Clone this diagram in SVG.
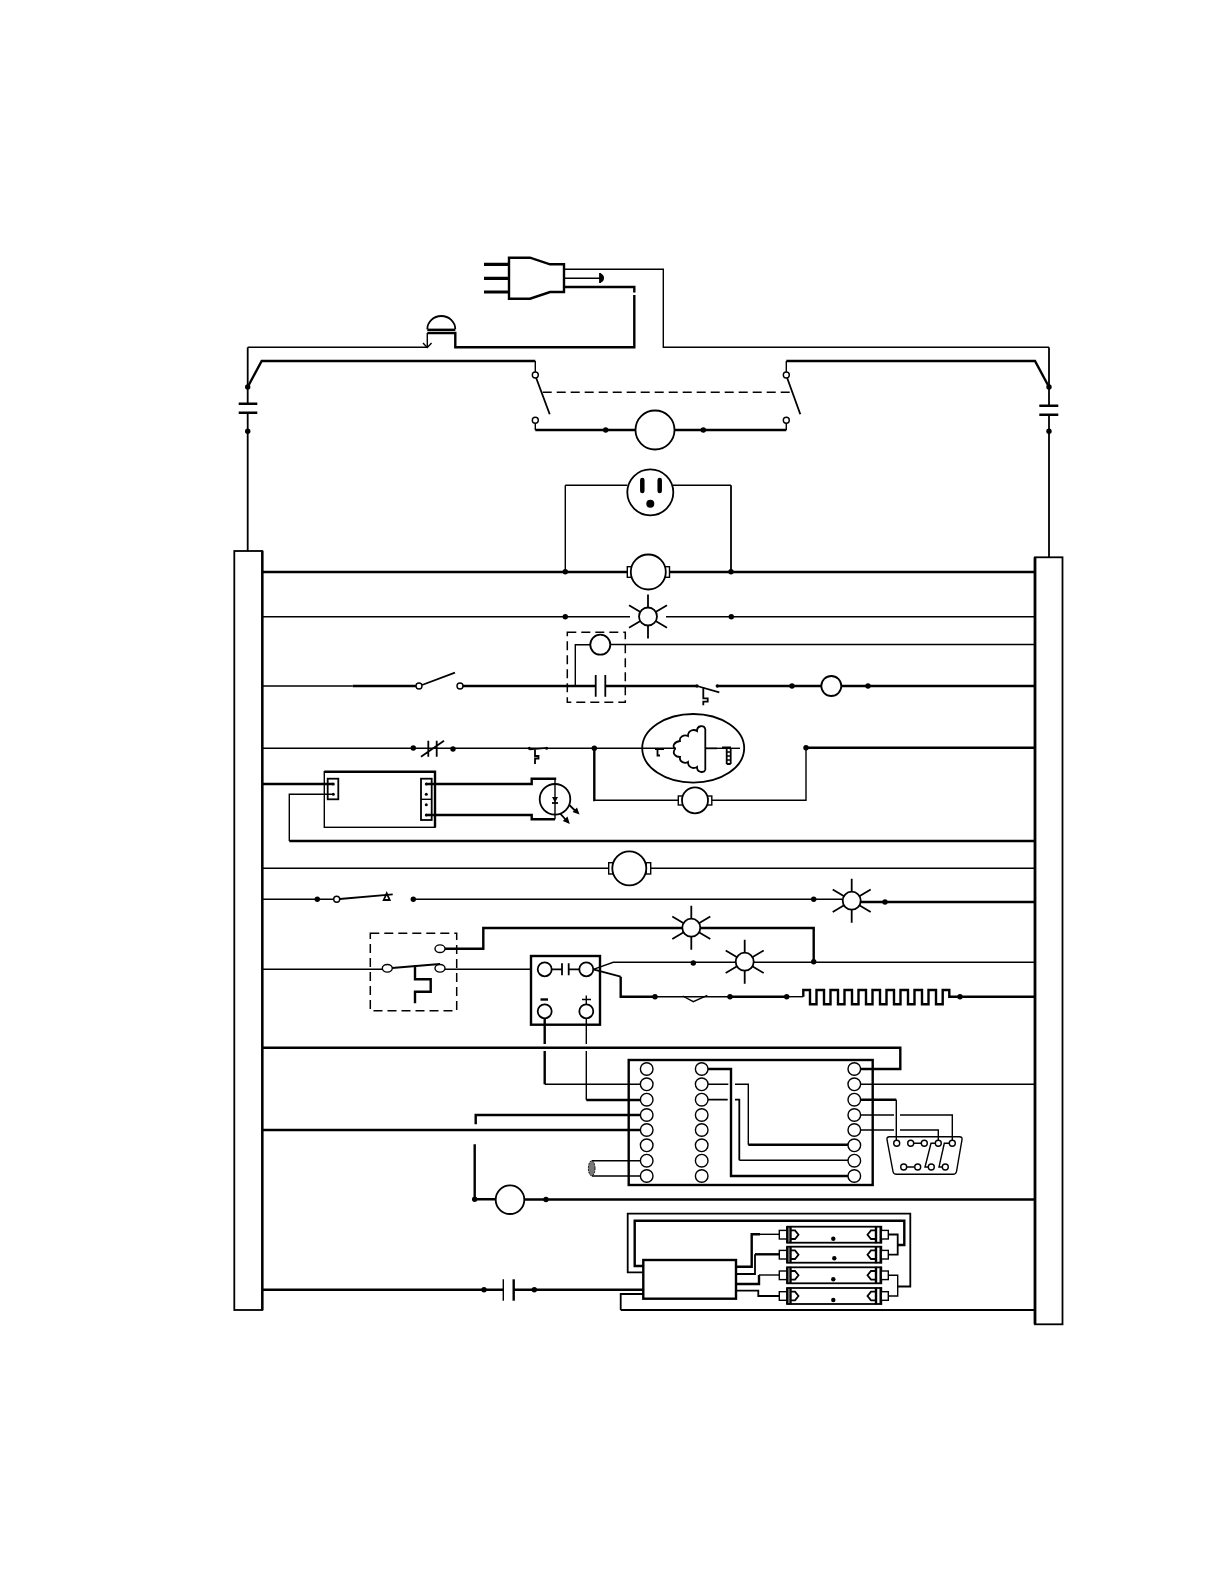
<svg xmlns="http://www.w3.org/2000/svg" xmlns:xlink="http://www.w3.org/1999/xlink" width="1225" height="1585" viewBox="0 0 1225 1585">
<style>
.t{fill:none;stroke:#000;stroke-width:1.4}
.m{fill:none;stroke:#000;stroke-width:1.8}
.k{fill:none;stroke:#000;stroke-width:2.4}
.w{fill:#fff;stroke:#000;stroke-width:1.8}
.n{fill:#fff;stroke:#000;stroke-width:1.4}
.d{fill:#000}
.dash{fill:none;stroke:#000;stroke-width:1.5;stroke-dasharray:9 5}
.ray{stroke:#000;stroke-width:1.8;fill:none}
</style>
<defs>
<g id="lamp"><path class="ray" d="M0-22V22M-19-11.3L19 11.3M-19 11.3L19-11.3"/><circle class="w" r="9"/></g>
<g id="tube">
<rect class="m" x="787.3" y="-8" width="94" height="16"/>
<rect class="n" x="779.3" y="-4.300" width="8" height="8.600"/>
<path class="k" d="M787.3-8.500V8.500M790.500-8.500V8.500"/>
<path class="m" d="M790.500-4.300H795L798.500 0L795 4.300H790.500"/>
<rect class="n" x="880.700" y="-4.300" width="7.600" height="8.600"/>
<path class="k" d="M880.700-8.500V8.500M876-8.500V8.500"/>
<path class="m" d="M876-4.300H871L867.500 0L871 4.300H876"/>
</g>
<circle id="pin" class="n" r="6.300"/>
<circle id="db" class="n" r="3"/>
</defs>

<g id="connectors">
<path class="t" d="M564 269.300H663.300V347.300H1049"/>
<path class="m" d="M1049 347.300V387"/>
<path class="t" d="M564 278.300H600"/>
<path class="k" d="M564 287H634.300V292.500M634.300 295V347.300H455.300V333H427.300"/>
<path class="t" d="M427.300 333V347"/>
<path class="t" d="M427.300 347.300H247.700"/>
<path class="m" d="M247.700 347.300V387"/>
<path class="k" d="M247.700 387L261.700 361H535.300"/>
<path class="t" d="M535.300 361V372"/>
<path class="k" d="M1049 387L1035 361H786.300"/>
<path class="t" d="M786.300 361V372"/>
<path class="t" d="M535.300 423.500V430M786.300 423.500V430"/>
<path class="k" d="M535.300 430H635.500M674.500 430H786.300"/>
<path class="m" d="M536 377.500L549.700 414.300M787 377.500L800.300 414.300"/>
<path class="dash" d="M542.700 392.300H791.700"/>
<path class="m" d="M247.700 387V403.700M247.700 412.700V551M1049 387V405.700M1049 414.700V557.300"/>
<path class="k" d="M238.700 403.700H257.300M238.700 412.700H257.300M1039.300 405.700H1058.300M1039.300 414.700H1058.300"/>
<path class="t" d="M565.300 485.300H627.500M673 485.300H731"/>
<path class="m" d="M731 485.300V571.700"/>
<path class="t" d="M565.300 485.300V571.700"/>
<path class="k" d="M262 572H627.300M669.300 572H1035"/>
<path class="t" d="M262 616.700H630M666 616.700H1035"/>
<path class="t" d="M262 686H352.700"/>
<path class="k" d="M352.700 686H416"/>
<path class="m" d="M422 685L455 672.700"/>
<path class="k" d="M463 686H595.700M605.300 686H696.700"/>
<path class="m" d="M697 686L719.300 692.300"/>
<path class="k" d="M717.300 686H821M841.500 686H1035"/>
<path class="t" d="M575.300 686V644.700H590.300M610.300 644.500H1035"/>
<path class="m" d="M703.300 687.300V698.300H707.700V701.700H703.300V705.300"/>
<path class="t" d="M262 748.300H676"/>
<path class="k" d="M594.300 748.300V800H595"/>
<path class="t" d="M595 800.300H678.300M711.700 800.300H806V747.700"/>
<path class="k" d="M806 747.700H1035"/>
<path class="m" d="M705.300 748.300H717"/>
<path class="t" d="M717 748.300H740"/>
<path class="k" d="M262 784H333"/>
<path class="t" d="M333 794.300H289.300V841"/>
<path class="k" d="M289.300 841H1035"/>
<path class="k" d="M426.300 784H531.700V778.700H555V780M555 819.300H531.700V815H426.300"/>
<path class="t" d="M555 778.700V819.300"/>
<path class="t" d="M262 868.300H608.700M650.700 868.300H1035"/>
<path class="t" d="M262 899.300H333.700M413.300 899.300H842"/>
<path class="k" d="M860.700 902H1035"/>
<path class="m" d="M339.700 899L392.700 894.300"/>
<path class="m" d="M386.700 893.300L383.700 900H389.700Z"/>
<path class="t" d="M262 969.300H382.300M445 969.300H531.700"/>
<path class="k" d="M445 948.700H483.300V928H682M700 928H813.700V961.700"/>
<path class="t" d="M593.300 969.300L613.300 962.300H1035"/>
<path class="m" d="M392 968L440 964"/>
<path class="k" d="M415 965V979.300H430.700V991.700H415V1003.300"/>
<path class="m" d="M593.300 969.300L620.700 976.700"/>
<path class="k" d="M620.700 976.700V996.700H655"/>
<path class="t" d="M655 996.700H730"/>
<path class="t" d="M682.700 996L693.300 1001.700L707.300 995.300"/>
<path class="k" d="M730 996.700H786.700"/>
<path class="t" d="M786.700 996.700H803.300"/>
<path class="k" d="M803.300 996.700V990H810V1004.300H816.500V990H824V1004.300H830.500V990H838V1004.300H844.500V990H852V1004.300H858.500V990H866V1004.300H872.500V990H880V1004.300H886.500V990H894V1004.300H900.500V990H908V1004.300H914.500V990H922V1004.300H928.500V990H936V1004.300H942.700V990H949.300V996.700H960"/>
<path class="k" d="M960 996.700H1035"/>
<path class="k" d="M544.700 1018V1044M544.700 1051V1084.300"/>
<path class="t" d="M544.700 1084.300H640.400"/>
<path class="t" d="M586.300 1018V1044M586.300 1051V1100"/>
<path class="k" d="M586.300 1100H640.400"/>
<path class="k" d="M262 1047.700H900.300V1069H860.600"/>
<path class="k" d="M640.400 1115H475.700V1124.300"/>
<path class="k" d="M262 1130H640.400"/>
<path class="k" d="M474.700 1144.300V1199.300H495.700M524.300 1199.500H1035"/>
<path class="t" d="M592 1160.700H640.400M592 1176H640.400"/>
<path class="k" d="M708 1069H731V1176H848"/>
<path class="t" d="M708 1084.300H728.300M735 1084.300H748.300V1144.700"/>
<path class="k" d="M748.300 1144.700H848"/>
<path class="m" d="M708 1099.700H727.700M735 1099.700H739.300V1160.300"/>
<path class="t" d="M739.300 1160.300H848"/>
<path class="t" d="M860.600 1084.300H1035"/>
<path class="k" d="M860.600 1099.700H896.300"/>
<path class="t" d="M896.300 1099.700V1140.300"/>
<path class="t" d="M860.600 1115H894M900 1115H952.300V1140.300M860.600 1130H894M900 1130H938.300V1140.300"/>
<path class="t" d="M913.700 1143.300H921.300M906.700 1167H914.700M935.300 1143.300H931L925 1167H928.300M949.300 1143.300H944.300L939 1167H942.300"/>
<path class="k" d="M262 1289.700H503.300M513.700 1289.700H643.300"/>
<path class="m" d="M643.300 1294H620.700V1310"/>
<path class="m" d="M620.700 1310H1035"/>
<path class="m" d="M643.300 1272.300H627.700V1213.700H910.300V1286.500H897.700"/>
<path class="k" d="M643.300 1266H634.700V1220.700H904.300V1245H897.700"/>
<path class="k" d="M736 1266.700H751.700V1234.300H760"/>
<path class="t" d="M760 1234.300H779.300"/>
<path class="m" d="M736 1274H755V1254.300"/>
<path class="k" d="M755 1254.300H780"/>
<path class="k" d="M736 1284H759V1275"/>
<path class="t" d="M759 1275H779.300"/>
<path class="m" d="M736 1290.700H758.300V1296H779.300"/>
<path class="m" d="M888.300 1234.500H897.700V1254.700H888.300"/>
<path class="t" d="M888.300 1275.300H897.700V1296H888.300"/>
</g>

<g id="plug">
<path d="M484 264.300H509M484 278.300H509M484 292H509" fill="none" stroke="#000" stroke-width="3.200"/>
<path class="k" d="M509 257.700H530L550 264.300H564V292H550L530 298.700H509Z" style="fill:#fff"/>
<path d="M600 273V283C603 282 604 280 604 278S603 274 600 273Z" class="d"/>
<path class="m" d="M600 273V283"/>
</g>
<g id="breaker">
<path class="m" d="M427.300 329.300A14 13.300 0 0 1 455.300 329.300"/>
<path class="k" d="M427.300 329.800H455.300"/>
<path class="t" d="M423 343L427.300 347.500L431.600 343"/>
</g>
<g id="terminals-left"><rect class="w" x="234.300" y="551" width="28" height="759"/><path class="k" d="M262.300 551V1310"/></g>
<g id="terminals-right"><rect class="w" x="1035" y="557.300" width="27.500" height="767"/><path d="M1035 557.300V1324.300" fill="none" stroke="#000" stroke-width="2.800"/></g>

<g id="switch-contacts">
<circle class="n" cx="535.300" cy="375" r="3"/><circle class="n" cx="535.300" cy="420.300" r="3"/>
<circle class="n" cx="786.300" cy="375" r="3"/><circle class="n" cx="786.300" cy="420.300" r="3"/>
</g>
<g id="compressor"><circle class="w" cx="655" cy="430" r="19.500"/></g>
<g id="receptacle">
<circle class="m" cx="650.300" cy="492.300" r="23"/>
<path d="M642.300 480V491M659.700 480V491" stroke="#000" stroke-width="4.500" stroke-linecap="round" fill="none"/>
<circle class="d" cx="650.300" cy="503.700" r="4"/>
</g>
<g id="motor-1">
<rect class="n" x="627.300" y="566.700" width="5" height="10.600"/><rect class="n" x="665" y="566.700" width="4.500" height="10.600"/>
<circle class="w" cx="648.300" cy="572" r="17.500"/>
</g>
<use id="lamp-1" xlink:href="#lamp" href="#lamp" x="648" y="616.500"/>
<g id="relay">
<rect class="dash" x="567.300" y="632.300" width="58" height="70"/>
<circle class="w" cx="600.300" cy="644.700" r="10"/>
<path class="m" d="M595.700 675V696.700M605.300 675V696.700"/>
</g>
<g id="door-switch"><circle class="n" cx="419" cy="686" r="3"/><circle class="n" cx="460" cy="686" r="3"/></g>
<g id="fan-1"><circle class="w" cx="831.300" cy="686" r="10"/></g>
<g id="contact-nc"><path class="m" d="M428.300 740.700V756.700M436.700 740.700V756.700M421 756.700L444 740.700"/></g>
<g id="thermostat">
<path class="t" d="M529.300 749.500L546.700 748"/>
<path class="m" d="M535 749.500V756H538.500V758.500H535V764"/>
<circle class="d" cx="529.300" cy="748.300" r="1.500"/><circle class="d" cx="546.700" cy="748.300" r="1.500"/>
</g>
<g id="compressor-motor">
<ellipse class="m" cx="693.200" cy="748.300" rx="51" ry="34.300"/>
<path class="m" d="M655 749H664M657.500 749V755.500H660"/>
<path class="m" d="M705.300 729V770M705.300 729C704 725 697 725 697 731C694 729 688 730 688 736C684 734 679 737 680 741C674 742 672 746 675 749C672 753 675 757 680 757C679 762 685 764 688 762C688 768 694 769 697 767C697 773 704 773 705.300 770"/>
<path class="m" d="M722 747.500H731M726.700 748V764M730.700 748V764M726.700 764H730.700"/>
<path class="t" d="M727 752H730M727 756H730M727 760H730"/>
</g>
<g id="fan-2">
<rect class="n" x="678.300" y="796" width="4.500" height="9"/><rect class="n" x="707.300" y="796" width="4.500" height="9"/>
<circle class="w" cx="695" cy="800.300" r="13"/>
</g>
<g id="ballast-1">
<rect class="t" x="324.300" y="771.700" width="110.700" height="55.600"/>
<path class="k" d="M435 827.300V771.700H324.300"/>
<rect class="m" x="327.700" y="778.700" width="10.600" height="20.600"/>
<rect class="m" x="421" y="778.700" width="10.700" height="41.300"/>
<path class="t" d="M421 799.300H431.700"/>
<circle class="d" cx="333.300" cy="784" r="1.500"/><circle class="d" cx="333.300" cy="794.300" r="1.500"/>
<circle class="d" cx="426.300" cy="784" r="1.500"/><circle class="d" cx="426.300" cy="794.300" r="1.500"/>
<circle class="d" cx="426.300" cy="804.700" r="1.500"/><circle class="d" cx="426.300" cy="815" r="1.500"/>
</g>
<g id="led">
<circle class="m" cx="555" cy="799.300" r="15.300"/>
<path class="d" d="M552 797H558L555 802.500Z"/><path class="m" d="M552 803H558"/>
<path class="m" d="M569.300 805L575 810.500M560 813.300L566 820"/>
<path class="d" d="M579.500 814.500L572.500 812L577 807.500ZM569.800 824L562.800 821L567.500 816.500Z"/>
</g>
<g id="motor-2">
<rect class="n" x="608.700" y="862.700" width="4.500" height="11.300"/><rect class="n" x="646" y="862.700" width="4.700" height="11.300"/>
<circle class="w" cx="629.300" cy="868.300" r="17"/>
</g>
<g id="switch-2"><circle class="n" cx="336.700" cy="899.300" r="3"/></g>
<use id="lamp-2" xlink:href="#lamp" href="#lamp" x="851.700" y="900.700"/>
<use id="lamp-3" xlink:href="#lamp" href="#lamp" x="691.300" y="927.700"/>
<use id="lamp-4" xlink:href="#lamp" href="#lamp" x="744.700" y="961.700"/>
<g id="relay-2">
<rect class="dash" x="370.300" y="933.300" width="86.400" height="77.400"/>
<ellipse class="n" cx="440" cy="948.700" rx="5" ry="3.800"/>
<ellipse class="n" cx="387.300" cy="968.300" rx="5" ry="3.800"/>
<ellipse class="n" cx="440" cy="968.300" rx="5" ry="3.800"/>
</g>
<g id="controller-box">
<rect class="k" x="531" y="956" width="69" height="68.700"/>
<circle class="w" cx="544.700" cy="969.300" r="7"/>
<circle class="w" cx="586.300" cy="969.300" r="7"/>
<circle class="w" cx="544.700" cy="1011.300" r="7"/>
<circle class="w" cx="586.300" cy="1011.300" r="7"/>
<path class="m" d="M552 969.300H562M562 963.300V975.300M568.700 963.300V975.300M568.700 969.300H579.300"/>
<path class="k" d="M540.500 999.500H548"/>
<path class="t" d="M582 999.500H591M586.300 995.500V1004"/>
</g>
<g id="control-board">
<rect class="k" x="628.700" y="1060" width="244" height="125"/>
<use xlink:href="#pin" href="#pin" x="646.700" y="1069"/><use xlink:href="#pin" href="#pin" x="646.700" y="1084.300"/><use xlink:href="#pin" href="#pin" x="646.700" y="1099.700"/><use xlink:href="#pin" href="#pin" x="646.700" y="1115"/><use xlink:href="#pin" href="#pin" x="646.700" y="1130"/><use xlink:href="#pin" href="#pin" x="646.700" y="1145.300"/><use xlink:href="#pin" href="#pin" x="646.700" y="1160.700"/><use xlink:href="#pin" href="#pin" x="646.700" y="1176"/>
<use xlink:href="#pin" href="#pin" x="701.700" y="1069"/><use xlink:href="#pin" href="#pin" x="701.700" y="1084.300"/><use xlink:href="#pin" href="#pin" x="701.700" y="1099.700"/><use xlink:href="#pin" href="#pin" x="701.700" y="1115"/><use xlink:href="#pin" href="#pin" x="701.700" y="1130"/><use xlink:href="#pin" href="#pin" x="701.700" y="1145.300"/><use xlink:href="#pin" href="#pin" x="701.700" y="1160.700"/><use xlink:href="#pin" href="#pin" x="701.700" y="1176"/>
<use xlink:href="#pin" href="#pin" x="854.300" y="1069"/><use xlink:href="#pin" href="#pin" x="854.300" y="1084.300"/><use xlink:href="#pin" href="#pin" x="854.300" y="1099.700"/><use xlink:href="#pin" href="#pin" x="854.300" y="1115"/><use xlink:href="#pin" href="#pin" x="854.300" y="1130"/><use xlink:href="#pin" href="#pin" x="854.300" y="1145.300"/><use xlink:href="#pin" href="#pin" x="854.300" y="1160.700"/><use xlink:href="#pin" href="#pin" x="854.300" y="1176"/>
</g>
<g id="cable"><ellipse cx="591.700" cy="1168.300" rx="3.300" ry="7.500" fill="#777" stroke="#000" stroke-width="1" stroke-dasharray="2 1"/></g>
<g id="db9">
<path class="t" d="M889.500 1136.700H959.500Q962.500 1136.700 962 1139.700L956.500 1171.500Q956 1174.300 953 1174.300H896.500Q893.500 1174.300 893 1171.500L887 1139.700Q886.500 1136.700 889.500 1136.700Z"/>
<use xlink:href="#db" href="#db" x="896.700" y="1143.300"/><use xlink:href="#db" href="#db" x="910.700" y="1143.300"/><use xlink:href="#db" href="#db" x="924.300" y="1143.300"/><use xlink:href="#db" href="#db" x="938.300" y="1143.300"/><use xlink:href="#db" href="#db" x="952.300" y="1143.300"/>
<use xlink:href="#db" href="#db" x="903.700" y="1167"/><use xlink:href="#db" href="#db" x="917.700" y="1167"/><use xlink:href="#db" href="#db" x="931.300" y="1167"/><use xlink:href="#db" href="#db" x="945.300" y="1167"/>
</g>
<g id="fan-3"><circle class="w" cx="510" cy="1199.700" r="14.300"/></g>
<g id="capacitor-run"><path class="t" d="M503.300 1279.300V1300.700"/><path class="k" d="M513.700 1279.300V1300.700"/></g>
<g id="ballast-2"><rect class="k" x="643.300" y="1260" width="92.700" height="38.700" style="fill:#fff"/></g>
<g id="tubes">
<use xlink:href="#tube" href="#tube" y="1234.700"/><use xlink:href="#tube" href="#tube" y="1254.700"/><use xlink:href="#tube" href="#tube" y="1275.300"/><use xlink:href="#tube" href="#tube" y="1296"/>
<circle class="d" cx="833.300" cy="1238.700" r="2.200"/><circle class="d" cx="834.300" cy="1258.300" r="2.200"/><circle class="d" cx="833.300" cy="1279.300" r="2.200"/><circle class="d" cx="833.300" cy="1300" r="2.200"/>
</g>
<g id="junctions" class="d">
<circle cx="247.700" cy="387" r="2.700"/><circle cx="247.700" cy="431.300" r="2.700"/><circle cx="1049" cy="387" r="2.700"/><circle cx="1049" cy="431.300" r="2.700"/>
<circle cx="605.700" cy="430" r="2.700"/><circle cx="703.300" cy="430" r="2.700"/>
<circle cx="565.300" cy="571.700" r="2.700"/><circle cx="731" cy="571.700" r="2.700"/>
<circle cx="565.300" cy="616.700" r="2.700"/><circle cx="731.300" cy="616.700" r="2.700"/>
<circle cx="697" cy="686" r="1.700"/><circle cx="717.300" cy="686" r="1.700"/><circle cx="792" cy="686" r="2.700"/><circle cx="868" cy="686" r="2.700"/>
<circle cx="413.300" cy="748" r="2.700"/><circle cx="453" cy="749" r="2.700"/><circle cx="594.300" cy="748.300" r="2.700"/><circle cx="806" cy="747.700" r="2.700"/>
<circle cx="317.300" cy="899.300" r="2.700"/><circle cx="413.300" cy="899.300" r="2.700"/><circle cx="813.700" cy="899.300" r="2.700"/><circle cx="885" cy="902" r="2.700"/>
<circle cx="693.300" cy="963" r="2.700"/><circle cx="813.700" cy="961.700" r="2.700"/>
<circle cx="655" cy="996.700" r="2.700"/><circle cx="730" cy="996.700" r="2.700"/><circle cx="786.700" cy="996.700" r="2.700"/><circle cx="960" cy="996.700" r="2.700"/>
<circle cx="474.700" cy="1199.300" r="2.700"/><circle cx="546" cy="1199.500" r="2.700"/>
<circle cx="484" cy="1289.700" r="2.700"/><circle cx="534.300" cy="1289.700" r="2.700"/>
</g>
</svg>
